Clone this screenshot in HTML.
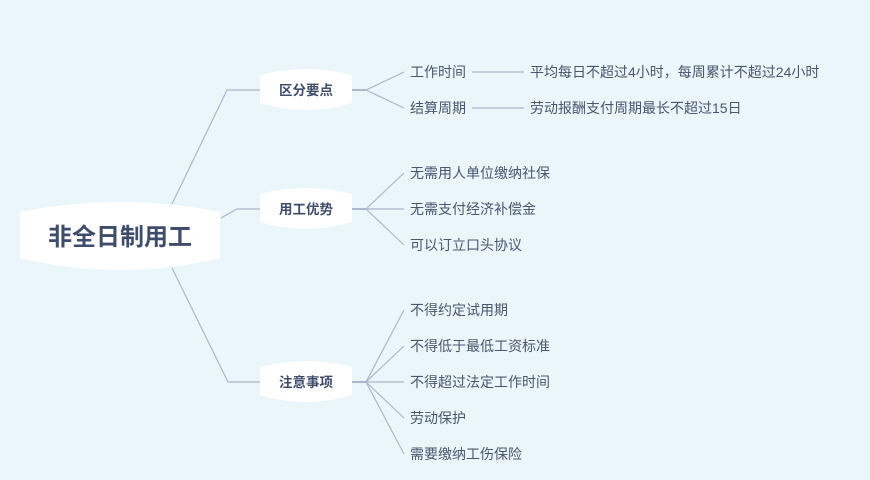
<!DOCTYPE html>
<html><head><meta charset="utf-8"><style>
html,body{margin:0;padding:0;background:#eaf6f9;}
svg{display:block;}
text{font-family:"Liberation Sans","Noto Sans CJK SC",sans-serif;fill:#4a5570;}
</style></head><body>
<svg width="870" height="480" viewBox="0 0 870 480" xmlns="http://www.w3.org/2000/svg">
<rect width="870" height="480" fill="#eaf6f9"/>
<g fill="none" stroke="#aab7cc" stroke-width="1.2">
<polyline points="172,204 227,90 260,90"/>
<polyline points="221,218 237,209 260,209"/>
<polyline points="172,268 228,382 260,382"/>
<line x1="352" y1="90" x2="366" y2="90" stroke-width="2"/>
<line x1="352" y1="209" x2="366" y2="209" stroke-width="2"/>
<line x1="352" y1="382" x2="366" y2="382" stroke-width="2"/>
<path d="M366,90 L404,72 M366,90 L404,108"/>
<path d="M366,209 L404,173 M366,209 L404,209 M366,209 L404,245"/>
<path d="M366,382 L404,310 M366,382 L404,346 M366,382 L404,382 M366,382 L404,418 M366,382 L404,454"/>
<path d="M472,72 L524,72 M472,108 L524,108"/>
</g>
<g fill="#ffffff">
<path d="M20,212 Q120,192 220,212 L220,258 Q120,282 20,258 Z"/>
<path d="M260,75 Q306,63 352,75 L352,103 Q306,117 260,103 Z"/>
<path d="M260,194 Q306,182 352,194 L352,222 Q306,236 260,222 Z"/>
<path d="M260,367 Q306,355 352,367 L352,395 Q306,409 260,395 Z"/>
</g>
<text x="120" y="245" font-size="24" font-weight="bold" text-anchor="middle" style="fill:#3e4d6b">非全日制用工</text>
<g font-size="13.5" font-weight="bold" text-anchor="middle">
<text x="306" y="95" style="fill:#3e4d6b">区分要点</text>
<text x="306" y="214" style="fill:#3e4d6b">用工优势</text>
<text x="306" y="387" style="fill:#3e4d6b">注意事项</text>
</g>
<g font-size="14">
<text x="410" y="77">工作时间</text>
<text x="410" y="113">结算周期</text>
<text x="530" y="77">平均每日不超过4小时，每周累计不超过24小时</text>
<text x="530" y="113">劳动报酬支付周期最长不超过15日</text>
<text x="410" y="178">无需用人单位缴纳社保</text>
<text x="410" y="214">无需支付经济补偿金</text>
<text x="410" y="250">可以订立口头协议</text>
<text x="410" y="315">不得约定试用期</text>
<text x="410" y="351">不得低于最低工资标准</text>
<text x="410" y="387">不得超过法定工作时间</text>
<text x="410" y="423">劳动保护</text>
<text x="410" y="459">需要缴纳工伤保险</text>
</g>
</svg>
</body></html>
